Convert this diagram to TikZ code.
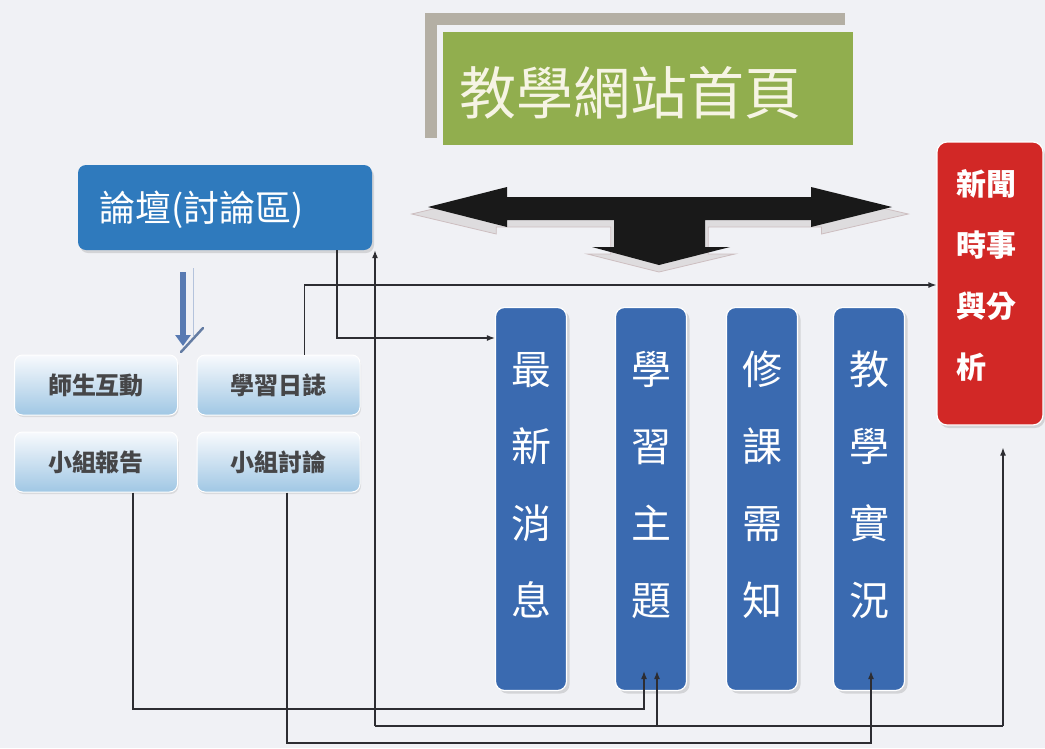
\documentclass[tikz,border=0pt]{standalone}
\usepackage{fontspec}
\newfontfamily\cjk{Noto Sans CJK TC}
\usetikzlibrary{arrows.meta,shadows,calc}
\definecolor{bg}{RGB}{240,241,245}
\definecolor{forumblue}{RGB}{47,122,189}
\definecolor{colblue}{RGB}{58,106,176}
\definecolor{newsred}{RGB}{210,40,38}
\definecolor{titlegreen}{RGB}{145,174,78}
\definecolor{titlegray}{RGB}{180,175,164}
\definecolor{titletext}{RGB}{246,244,228}
\definecolor{subtop}{RGB}{248,250,253}
\definecolor{subbot}{RGB}{160,199,228}
\definecolor{subtext}{RGB}{70,70,72}
\definecolor{linec}{RGB}{45,45,50}
\definecolor{arrowblue}{RGB}{88,122,178}
\definecolor{shadowgray}{RGB}{222,220,222}
\definecolor{shadowedge}{RGB}{205,190,192}
\tikzset{
  conn/.style={draw=linec, line width=1.2pt, -{Latex[length=8pt,width=6pt]}},
  plainconn/.style={draw=linec, line width=1.2pt},
  forumbox/.style={fill=forumblue, rounded corners=8pt, minimum width=294pt, minimum height=85pt, inner sep=0pt,
    drop shadow={opacity=0.25, shadow xshift=2pt, shadow yshift=-3pt}},
  subbox/.style={rounded corners=8pt, top color=subtop, bottom color=subbot, draw=white, line width=1pt,
    minimum width=163pt, minimum height=60pt, inner sep=0pt, text=subtext,
    font={\cjk\bfseries\fontsize{24}{28}\selectfont},
    drop shadow={opacity=0.2, shadow xshift=1pt, shadow yshift=-2pt}},
  colbox/.style={fill=colblue, draw=white, line width=1.2pt, rounded corners=9pt, minimum width=71pt, minimum height=383pt, inner sep=0pt,
    drop shadow={opacity=0.25, shadow xshift=3pt, shadow yshift=-3pt}},
  coltext/.style={text=white, align=center, inner sep=0pt, font={\cjk\fontsize{40}{77}\selectfont}},
  redbox/.style={fill=newsred, draw=white, line width=1.2pt, rounded corners=10pt, minimum width=106pt, minimum height=283pt, inner sep=0pt,
    drop shadow={opacity=0.25, shadow xshift=2pt, shadow yshift=-3pt}},
}
\newcommand{\bigarrowpath}{(428,207) -- (507,187) -- (507,197) -- (811,197) -- (811,187) -- (892,207) -- (811,227) -- (811,220) -- (705,220) -- (705,247) -- (730,247) -- (659,265) -- (592,247) -- (614,247) -- (614,220) -- (507,220) -- (507,227) -- cycle}
\begin{document}
\begin{tikzpicture}[x=1pt,y=-1pt]
\useasboundingbox (0,0) rectangle (1045,748);
\fill[bg] (0,0) rectangle (1045,748);

% title
\fill[titlegray] (425,13) rectangle (845,25);
\fill[titlegray] (425,13) rectangle (437,138);
\node[fill=titlegreen, minimum width=410pt, minimum height=113pt, inner sep=0pt] (title) at (648,88.5) {};
\node[anchor=west, inner sep=0pt, text=titletext, font={\cjk\fontsize{57}{60}\selectfont}] (titletxt) at (459,93) {教學網站首頁};

% big black arrow with shadow
\begin{scope}[shift={(660,7)}, xscale=1.07, shift={(-660,0)}]
  \filldraw[fill=shadowgray, draw=shadowedge, line width=0.8pt] \bigarrowpath;
\end{scope}
\fill[black!90] \bigarrowpath;

% forum
\node[forumbox] (forum) at (225,207.5) {};
\node[anchor=west, inner sep=0pt, text=white, font={\cjk\fontsize{36}{40}\selectfont}] (forumtxt) at (99,210) {論壇(討論區)};

% blue down arrow under forum
\draw[line width=1pt, color=arrowblue!45] (193,268) -- (193,336);
\draw[line width=6pt, color=arrowblue, -{Triangle[length=11pt,width=15pt]}] (183,272) -- (183,346);
\draw[line width=2.5pt, color=arrowblue!70!gray, line cap=round] (181,352) -- (203,328);

% sub boxes
\node[subbox] (teach) at (96,385) {師生互動};
\node[subbox] (diary) at (278.5,385) {學習日誌};
\node[subbox] (report) at (96,462) {小組報告};
\node[subbox] (discuss) at (278.5,462) {小組討論};

% column boxes
\node[colbox] (latest) at (531,499) {};
\node[colbox] (topic) at (651,499) {};
\node[colbox] (course) at (762,499) {};
\node[colbox] (live) at (869,499) {};
\node[coltext] (t1) at (531,485) {最\\新\\消\\息};
\node[coltext] (t2) at (651,485) {學\\習\\主\\題};
\node[coltext] (t3) at (762,485) {修\\課\\需\\知};
\node[coltext] (t4) at (869,485) {教\\學\\實\\況};

% news box
\node[redbox] (news) at (990,283.5) {};
\node[text=white, align=left, inner sep=0pt, font={\cjk\bfseries\fontsize{30}{61}\selectfont}] (newstxt) at (986,275) {新聞\\時事\\與分\\析};

% connectors
\coordinate (eY) at (0,338);
\coordinate (dY) at (0,285);
\draw[conn] ([xshift=112pt]forum.south) |- (latest.west |- eY);
\draw[conn] ([xshift=26pt]diary.north) |- (news.west |- dY);

\coordinate (aCorner) at (644,709);
\draw[conn] ([xshift=37pt]report.south) |- (aCorner) -- ([xshift=-7pt,yshift=20pt]topic.south);

\coordinate (bL) at (375,726);
\coordinate (bM) at (657,726);
\coordinate (bR) at (1003,726);
\draw[plainconn] (bL) -- (bR);
\draw[conn] (bL) -- (bL |- forum.south);
\draw[conn] (bM) -- ([xshift=6pt,yshift=20pt]topic.south);
\draw[conn] (bR) -- ($(bR |- news.south)+(0,22)$);

\coordinate (cCorner) at (871,743);
\draw[conn] ([xshift=8.5pt]discuss.south) |- (cCorner) -- ([xshift=2pt,yshift=20pt]live.south);
\end{tikzpicture}
\end{document}
